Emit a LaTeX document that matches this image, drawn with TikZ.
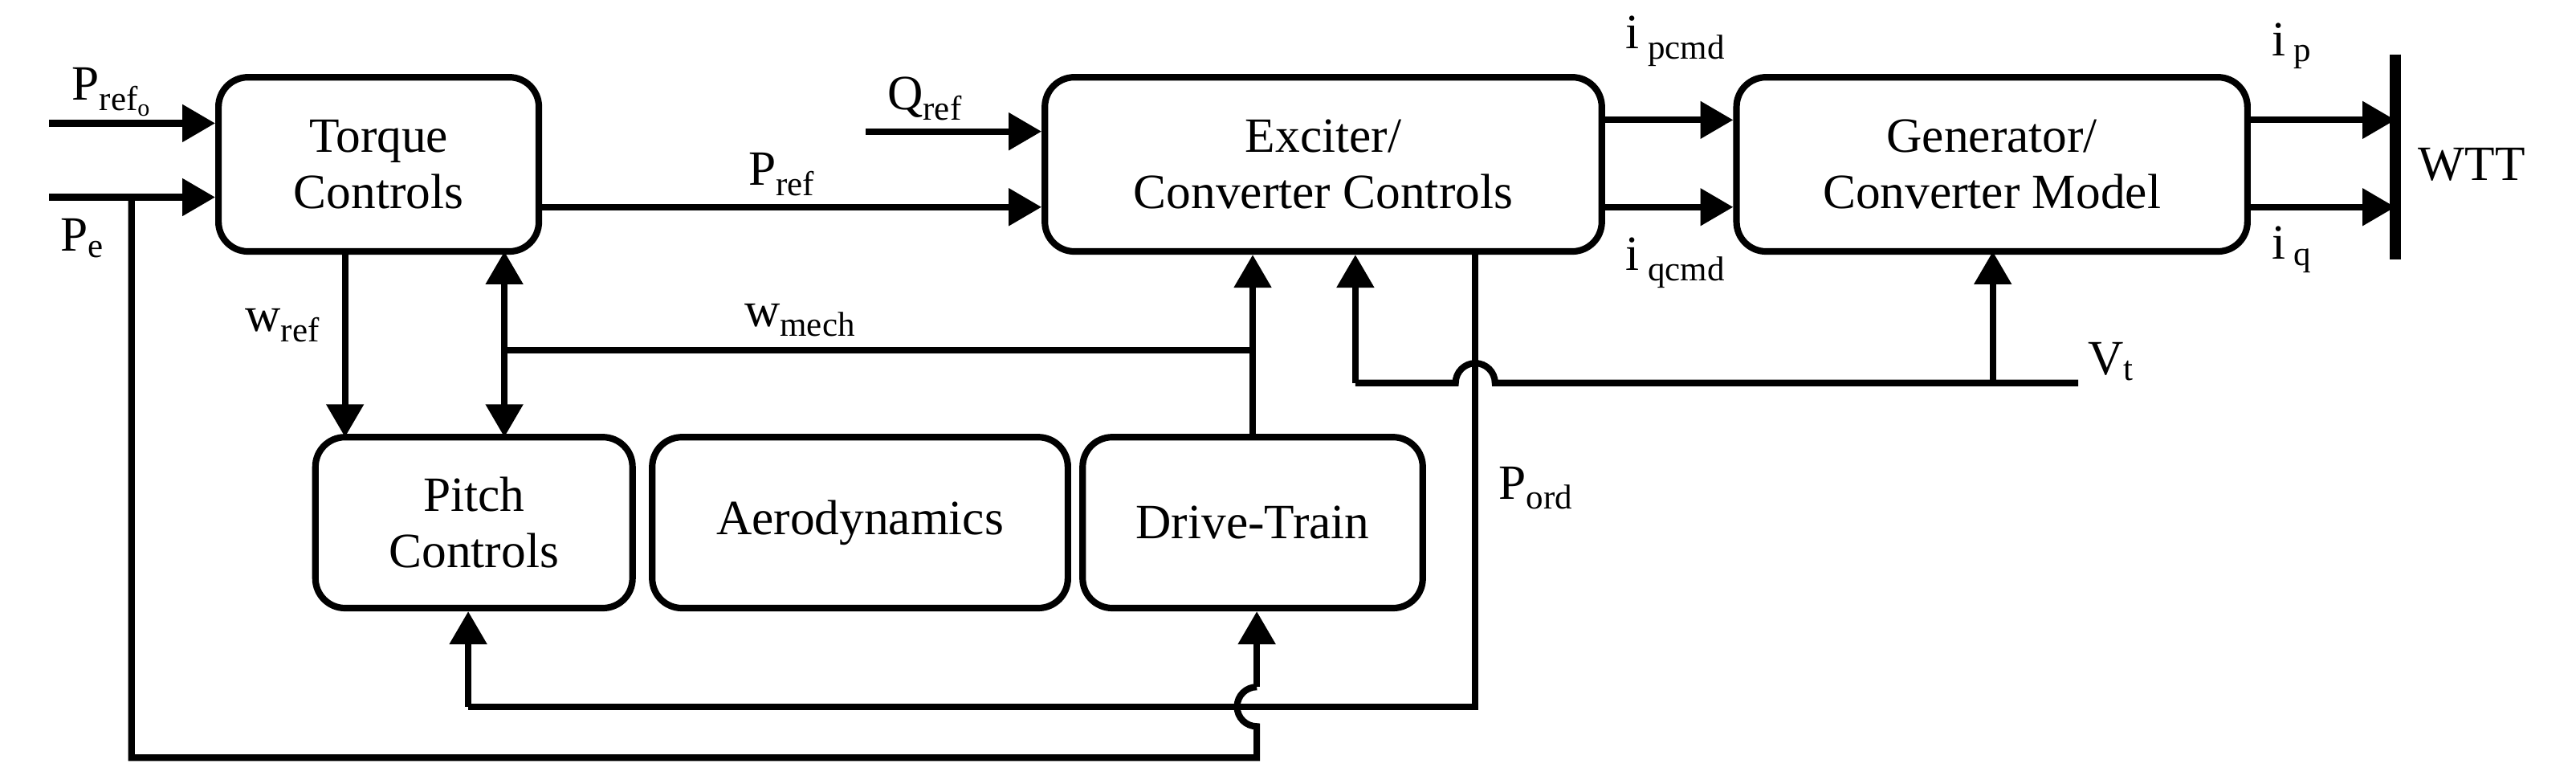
\documentclass[tikz,border=0pt]{standalone}
\usepackage{fontspec}
\setmainfont{Liberation Serif}
\usetikzlibrary{arrows.meta}
\begin{document}
\begin{tikzpicture}[x=1pt,y=-1pt,line width=4pt,
 box/.style={draw,rounded corners=18pt,align=center,font=\fontsize{30}{34}\selectfont,inner sep=0pt},
 lbl/.style={font=\fontsize{30}{30}\selectfont,inner sep=0pt},
 ar/.style={-{Triangle[length=20pt,width=22pt]}},
 dar/.style={{Triangle[length=20pt,width=22pt]}-{Triangle[length=20pt,width=22pt]}}]
\useasboundingbox (0,0) rectangle (1568,477);
\node[box,minimum width=195pt,minimum height=106pt] (tc) at (230.5,100) {Torque\\Controls};
\node[box,minimum width=339pt,minimum height=106pt] (ex) at (805.5,100) {Exciter/\\Converter Controls};
\node[box,minimum width=311pt,minimum height=106pt] (gen) at (1212.5,100) {Generator/\\Converter Model};
\node[box,minimum width=193pt,minimum height=104pt] (pc) at (288.5,318) {Pitch\\Controls};
\node[box,minimum width=253pt,minimum height=104pt] (aero) at (523.5,318) {Aerodynamics};
\node[box,minimum width=207pt,minimum height=104pt] (dt) at (762.5,318) {Drive-Train};
\coordinate (wt1) at (1458,33); \coordinate (wt2) at (1458,158);
\draw[line width=7pt] (wt1) -- (wt2);
\node[lbl,anchor=west] (wtt) at (1470,100) {WTT};
% inputs
\coordinate (pr0) at (30,75); \coordinate (pe0) at (30,120);
\draw[ar] (pr0) -- (pr0 -| tc.west);
\draw[ar] (pe0) -- (pe0 -| tc.west);
\node[lbl] at (68,56) {P\textsubscript{ref\textsubscript{o}}};
\node[lbl] at (50,145) {P\textsubscript{e}};
% Pe feedback to drive train
\coordinate (pe1) at (80,120); \coordinate (pe2) at (80,461); \coordinate (pe3) at (765,461);
\coordinate (pj1) at (765,442); \coordinate (pj2) at (765,418);
\draw (pe1) -- (pe2) -- (pe3) -- (pj1) arc[start angle=-90,end angle=-270,radius=12pt];
\draw[ar] (pj2) -- (pj2 |- dt.south);
% Pref
\draw[ar] (tc.east |- 0,126) -- (ex.west |- 0,126);
\node[lbl] at (476,106) {P\textsubscript{ref}};
\coordinate (q0) at (527,80);
\draw[ar] (q0) -- (q0 -| ex.west);
\node[lbl] at (563,60) {Q\textsubscript{ref}};
% i cmds
\draw[ar] (ex.east |- 0,73) -- (gen.west |- 0,73);
\draw[ar] (ex.east |- 0,126) -- (gen.west |- 0,126);
\node[lbl] at (1020,25) {i\,\textsubscript{pcmd}};
\node[lbl] at (1020,160) {i\,\textsubscript{qcmd}};
\draw[ar] (gen.east |- 0,73) -- (wt1 |- 0,73);
\draw[ar] (gen.east |- 0,126) -- (wt1 |- 0,126);
\node[lbl] at (1395,28) {i\,\textsubscript{p}};
\node[lbl] at (1395,152) {i\,\textsubscript{q}};
% wref
\draw[ar] (210,153) -- (210,266);
\node[lbl] at (172,198) {w\textsubscript{ref}};
% wmech
\draw[dar] (307,153) -- (307,266);
\coordinate (wm1) at (307,213); \coordinate (wm2) at (762,213);
\draw (wm1) -- (wm2);
\draw[ar] (dt.north) -- (dt.north |- ex.south);
\node[lbl] at (487,195) {w\textsubscript{mech}};
% Vt
\coordinate (vt0) at (1265,233); \coordinate (vt1) at (825,233);
\coordinate (vj1) at (910,233); \coordinate (vj2) at (886,233);
\draw (vt0) -- (vj1) arc[start angle=0,end angle=180,radius=12pt] -- (vt1);
\draw[ar] (vt1) -- (vt1 |- ex.south);
\draw[ar] (1213,233) -- (1213,153);
\node[lbl] at (1285,220) {V\textsubscript{t}};
% Pord
\coordinate (po0) at (898,153); \coordinate (po1) at (898,430); \coordinate (po2) at (285,430);
\draw (po0) -- (po1) -- (po2);
\draw[ar] (po2) -- (po2 |- pc.south);
\node[lbl] at (935,297) {P\textsubscript{ord}};
\end{tikzpicture}
\end{document}
